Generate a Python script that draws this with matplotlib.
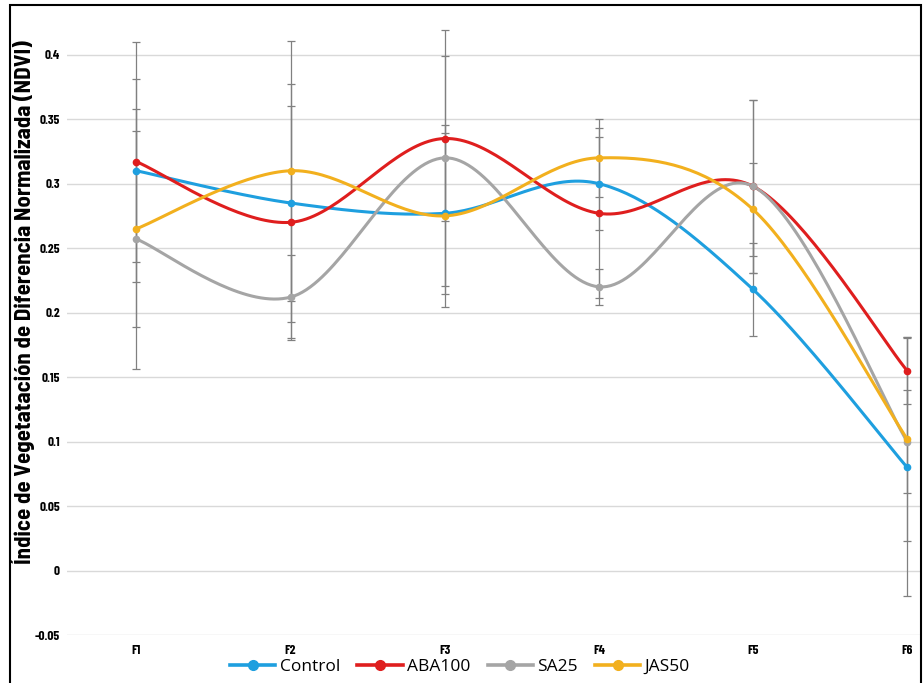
import numpy as np
import matplotlib
matplotlib.use("Agg")
import matplotlib.pyplot as plt
from matplotlib.patches import Rectangle
from matplotlib.lines import Line2D

NARROW = ["Barlow Condensed", "DejaVu Sans"]
SEMI = ["Barlow Semi Condensed", "Barlow Condensed", "DejaVu Sans"]

stages = ["F1", "F2", "F3", "F4", "F5", "F6"]
series = ["Control", "ABA100", "SA25", "JAS50"]
colors = ["#1E9FDF", "#DF1E1E", "#A5A5A5", "#F2B01E"]

control = [0.310, 0.285, 0.277, 0.300, 0.218, 0.080]
aba100 = [0.317, 0.270, 0.335, 0.277, 0.298, 0.155]
sa25 = [0.257, 0.212, 0.320, 0.220, 0.298, 0.100]
jas50 = [0.265, 0.310, 0.275, 0.320, 0.280, 0.102]

control_err = [0.071, 0.0925, 0.0625, 0.036, 0.036, 0.100]
aba100_err = [0.093, 0.090, 0.064, 0.066, 0.067, 0.026]
sa25_err = [0.101, 0.033, 0.0995, 0.014, 0.067, 0.040]
jas50_err = [0.076, 0.101, 0.0705, 0.030, 0.036, 0.079]

values = [control, aba100, sa25, jas50]
errors = [control_err, aba100_err, sa25_err, jas50_err]


def smooth(xs, ys, n=40):
    # bezier through the points, excel-style smoothed line
    pts = np.column_stack([xs, ys]).astype(float)
    P = np.vstack([pts[0], pts, pts[-1]])
    t = np.linspace(0, 1, n)[:, None]
    out = []
    for i in range(1, len(P) - 2):
        p0, p1, p2, p3 = P[i - 1], P[i], P[i + 1], P[i + 2]
        c1 = p1 + (p2 - p0) / 6
        c2 = p2 - (p3 - p1) / 6
        out.append((1 - t) ** 3 * p1 + 3 * (1 - t) ** 2 * t * c1
                   + 3 * (1 - t) * t ** 2 * c2 + t ** 3 * p2)
    return np.vstack(out)


W, H = 924, 683
fig = plt.figure(figsize=(W / 100, H / 100), dpi=100)
ax = fig.add_axes([67 / W, 1 - 635 / H, (921 - 67) / W, (635 - 16) / H])

x = np.arange(len(stages))
for vals, errs in zip(values, errors):
    ax.errorbar(x, vals, yerr=errs, fmt="none", ecolor="#808080",
                elinewidth=0.9, capsize=3, capthick=0.9, zorder=2)
for vals, col in zip(values, colors):
    s = smooth(x, vals)
    ax.plot(s[:, 0], s[:, 1], color=col, lw=2.2, zorder=3, solid_capstyle="round")
    ax.plot(x, vals, "o", color=col, ms=4.5, zorder=4)

ax.set_xlim(-0.45, 5.09)
ax.set_ylim(-0.05, 0.43)
ax.set_yticks(np.arange(-0.05, 0.401, 0.05))
ax.set_yticklabels(["-0.05", "0", "0.05", "0.1", "0.15", "0.2", "0.25", "0.3", "0.35", "0.4"],
                   family=NARROW, fontweight="bold", fontsize=9.5)
ax.set_xticks(x)
ax.set_xticklabels(stages, family=NARROW, fontweight="bold", fontsize=9.5)
ax.tick_params(axis="y", length=0, pad=5)
ax.tick_params(axis="x", length=0, pad=7)
ax.grid(axis="y", color="#D9D9D9", lw=1.0)
ax.set_axisbelow(True)
for sp in ax.spines.values():
    sp.set_visible(False)

fig.text(23 / W, 1 - 302 / H, "Índice de Vegetatación de Diferencia Normalizada (NDVI)",
         rotation=90, ha="center", va="center", fontsize=16.5, fontweight="bold",
         family=SEMI)

handles = [Line2D([], [], color=c, lw=2.6, marker="o", ms=7) for c in colors]
fig.legend(handles, series, loc="center", ncol=4, frameon=False,
           bbox_to_anchor=(460 / W, 1 - 667 / H), prop={"family": "Open Sans", "size": 12.5},
           handlelength=2.6, handletextpad=0.25, columnspacing=1.0, borderaxespad=0)

fig.patches.append(Rectangle((10 / W, -0.02), 911 / W, 1.02 - 5 / H, transform=fig.transFigure,
                             fill=False, ec="black", lw=1.5))

fig.savefig("out.png", dpi=100)
